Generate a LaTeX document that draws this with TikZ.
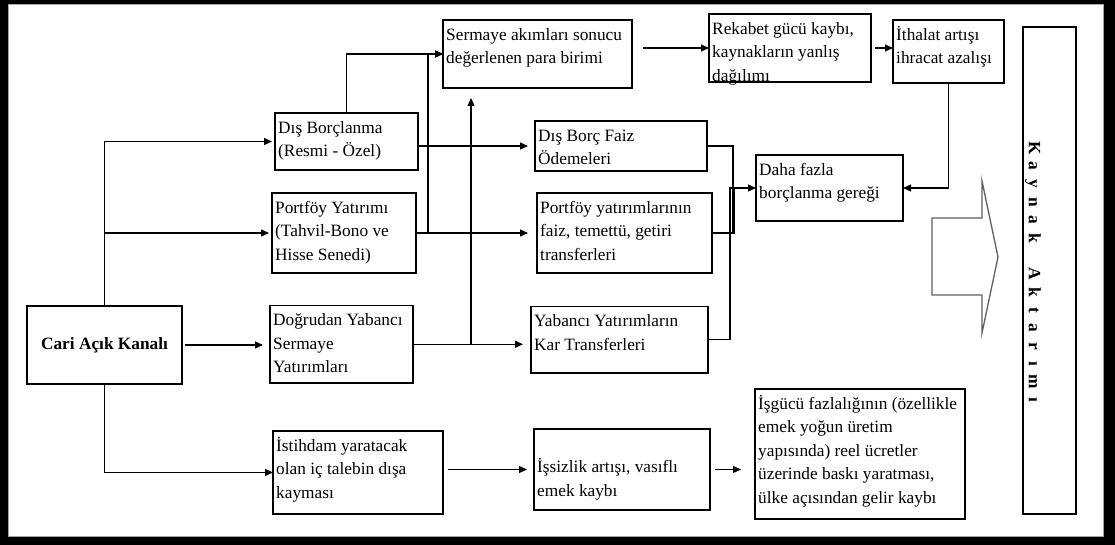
\documentclass[tikz,border=0pt]{standalone}
\usepackage{fontspec}
\setmainfont{Liberation Serif}
\usetikzlibrary{arrows.meta,calc}

% box with its text set from the upper left corner
\newcommand\flowbox[6]{%
  \node[box, minimum width=#4, minimum height=#5, anchor=north west] (#1) at (#2,#3) {};
  \node[txt, anchor=north west] (#1-t) at ([shift={(3,3.5)}]#1.north west) {\strut#6};
}
% one letter of the spaced vertical caption
\newcommand\lslot[1]{\makebox[18pt]{#1}}

\begin{document}
\begin{tikzpicture}[x=1pt,y=-1pt,
  box/.style={draw=black, fill=white, line width=1.2pt, inner sep=0pt, outer sep=0pt},
  txt/.style={inner sep=0pt, align=left, font=\fontsize{17.3}{23.5}\selectfont},
  link/.style={line width=1.3pt},
  arr/.style={line width=1.3pt, -{Triangle[length=8pt,width=7pt]}}]

\useasboundingbox (0,0) rectangle (1115,545);
% frame
\fill[black] (0,0) rectangle (1115,545);
\fill[white] (8,4.5) rectangle (1104,537);
\draw[gray!70, line width=0.8pt] (8.4,4.9) rectangle (1103.6,536.6);

% source
\node[box, minimum width=155, minimum height=78, font=\bfseries\fontsize{17.3}{20}\selectfont]
  (cari) at (104.5,345) {Cari Açık Kanalı};

% first column
\flowbox{dis}{275}{113}{143}{57}{Dış Borçlanma\\(Resmi - Özel)}
\flowbox{port}{272}{193}{144}{80}{Portföy Yatırımı\\(Tahvil-Bono ve\\Hisse Senedi)}
\flowbox{dogr}{270}{305.5}{143}{77.5}{Doğrudan Yabancı\\Sermaye\\Yatırımları}
\flowbox{isti}{273}{431}{170}{83}{İstihdam yaratacak\\olan iç talebin dışa\\kayması}

% second column
\flowbox{serm}{443}{20}{189}{68}{Sermaye akımları sonucu\\değerlenen para birimi}
\flowbox{dbf}{535}{121}{172}{50}{Dış Borç Faiz\\Ödemeleri}
\flowbox{pyat}{537}{193}{175}{80}{Portföy yatırımlarının\\faiz, temettü, getiri\\transferleri}
\flowbox{yab}{531}{306.5}{177}{66.5}{Yabancı Yatırımların\\Kar Transferleri}
\flowbox{issiz}{534}{429}{176}{81}{\\İşsizlik artışı, vasıflı\\emek kaybı}

% third column
\flowbox{reka}{709}{14}{162}{68}{Rekabet gücü kaybı,\\kaynakların yanlış\\dağılımı}
\flowbox{itha}{893}{20}{111}{63}{İthalat artışı\\ihracat azalışı}
\flowbox{daha}{756}{155}{147}{66}{Daha fazla\\borçlanma gereği}
\flowbox{isgu}{755}{389}{210}{130}{İşgücü fazlalığının (özellikle\\emek yoğun üretim\\yapısında) reel ücretler\\üzerinde baskı yaratması,\\ülke açısından gelir kaybı}

% vertical caption box
\node[box, minimum width=53, minimum height=487, anchor=north west] (kayn) at (1023,27) {};
\node[rotate=-90, inner sep=0pt, font=\bfseries\fontsize{17.3}{20}\selectfont] (kayn-t) at (1033,274)
  {\lslot{K}\lslot{a}\lslot{y}\lslot{n}\lslot{a}\lslot{k}\lslot{}\lslot{A}\lslot{k}\lslot{t}\lslot{a}\lslot{r}\lslot{ı}\lslot{m}\lslot{ı}};

% block arrow towards the caption
\draw[gray!75!black, line width=1.3pt, fill=white, line join=miter]
  (932,218) -- (982,218) -- (982,181) -- (998,257) -- (982,333) -- (982,295) -- (932,295) -- cycle;

% trunk from the source
\draw[arr, shorten >=3] (cari.north) |- (dis.west);
\draw[arr, shorten >=3] (cari.north) |- (port.west);
\draw[arr] (cari.south) |- (isti.west);
\draw[arr, shorten <=3, shorten >=7] (cari.east) -- (cari.east -| dogr.west);

% towards the appreciated currency
\draw[arr] (dis.north) |- (serm.west);
\draw[arr] (port.east) -- ++(12,0) |- (serm.west);
\coordinate (jd) at (471,344.25);
\draw[link] (dogr.east |- jd) -- (jd);
\draw[arr, shorten >=10] (jd) -- (jd |- serm.south);

% transfers
\draw[arr, shorten >=7] (dis.east |- dbf.west) -- (dbf.west);
\draw[arr, shorten >=9] (port.east) -- (port.east -| pyat.west);
\draw[arr, shorten >=8] (jd) -- (jd -| yab.west);

% top chain
\draw[arr, shorten <=11] (serm.east |- reka.west) -- (reka.west);
\draw[arr, shorten <=4] (reka.east) -- (reka.east -| itha.west);
\draw[arr] (itha.south) |- (daha.east);

% collecting into further borrowing
\draw[link] (dbf.east) -- ++(26,0) coordinate (c1) -- (c1 |- pyat.east);
\draw[link] (pyat.east) -- ++(22,0) coordinate (c2) -- (c2 |- daha.west);
\draw[arr] (yab.east) -- ++(22,0) coordinate (c3) |- (daha.west);

% employment chain
\draw[arr, shorten <=5, shorten >=7] (isti.east |- issiz.west) -- (issiz.west);
\draw[arr, shorten <=5, shorten >=14] (issiz.east) -- (issiz.east -| isgu.west);

\end{tikzpicture}
\end{document}
